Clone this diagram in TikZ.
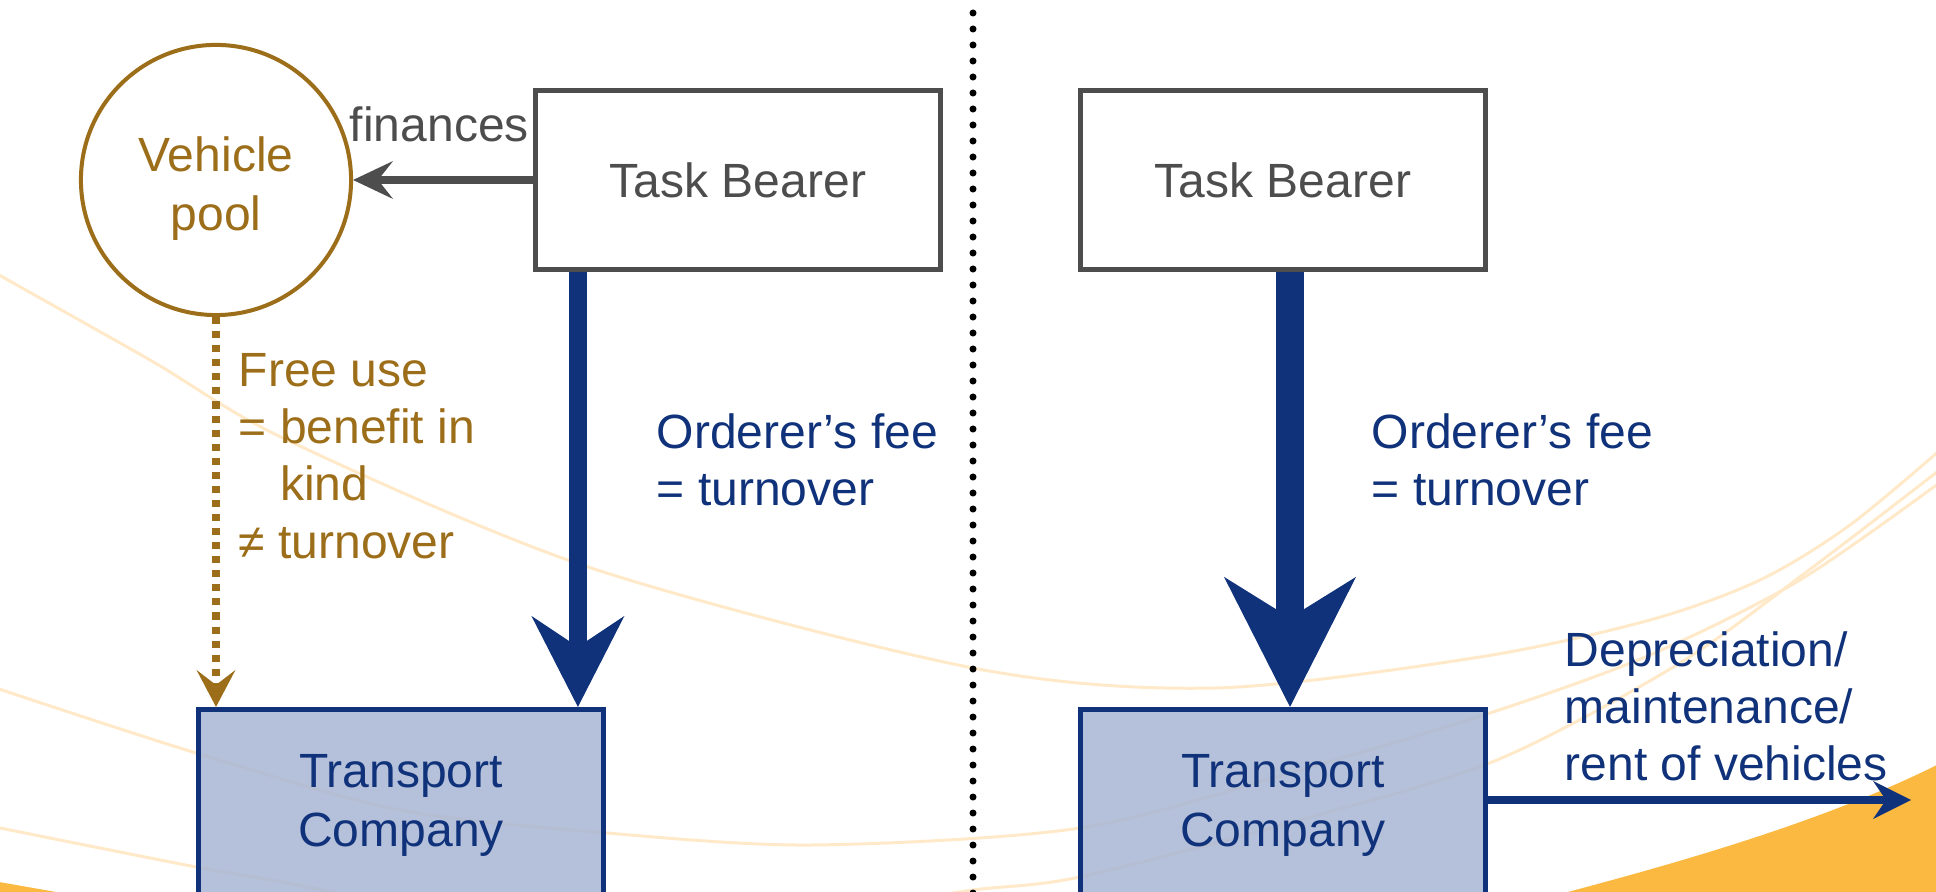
\documentclass[tikz,border=0pt]{standalone}
\usepackage{fontspec}
\setmainfont{Liberation Sans}
\usetikzlibrary{arrows.meta}

\definecolor{poolbrown}{RGB}{156,110,26}
\definecolor{feeblue}{RGB}{16,50,122}
\definecolor{bearergrey}{RGB}{77,77,77}
\definecolor{swooshline}{RGB}{255,233,200}
\definecolor{swooshfill}{RGB}{251,185,65}
\definecolor{meshblue}{RGB}{168,182,212}

\begin{document}
\begin{tikzpicture}[x=0.01cm, y=-0.01cm,
	every node/.style={font=\fontsize{13.66}{16.3}\selectfont, inner sep=0pt},
	bearerbox/.style={draw=bearergrey, line width=1.42pt, fill=white, text=bearergrey,
		minimum width=4.05cm, minimum height=1.79cm},
	companybox/.style={draw=feeblue, line width=1.42pt, fill=meshblue, fill opacity=0.85,
		text opacity=1, text=feeblue, align=center, minimum width=4.05cm, minimum height=1.92cm,
		font=\fontsize{13.66}{16.8}\selectfont},
	poolcircle/.style={circle, draw=poolbrown, line width=1.14pt, fill=white, text=poolbrown,
		align=center, minimum size=2.7cm, font=\fontsize{13.66}{16.8}\selectfont},
	feelabel/.style={text=feeblue, align=left, anchor=north west},
	uselabel/.style={text=poolbrown, align=left, anchor=north west},
	swoosh/.style={draw=swooshline, line width=0.85pt},
	sepline/.style={line width=2pt, line cap=round, dash pattern=on 0pt off 4.55pt},
	finarrow/.style={draw=bearergrey, line width=2.28pt,
		-{Stealth[length=4mm, width=3.8mm, inset=1.5mm, line width=0pt]}},
	usearrow/.style={draw=poolbrown, line width=2.28pt, dash pattern=on 2pt off 2pt,
		-{Stealth[length=3.7mm, width=3.9mm, inset=1.5mm, line width=0pt]}},
	feearrow/.style={draw=feeblue, fill=feeblue, line width=5.1pt,
		-{Stealth[length=9.1mm, width=9.3mm, inset=3.1mm, line width=0pt]}},
	bigfeearrow/.style={draw=feeblue, fill=feeblue, line width=7.7pt,
		-{Stealth[length=13mm, width=13.2mm, inset=4.1mm, line width=0pt]}},
	deprarrow/.style={draw=feeblue, line width=2pt,
		-{Stealth[length=3.8mm, width=3.8mm, inset=1.3mm, line width=0pt]}}]

	\useasboundingbox (0,0) rectangle (1936,892);
	\clip (0,0) rectangle (1936,892);

	% background swoosh
	\draw[swoosh] plot[smooth] coordinates {(-10,270) (150,360) (287,440) (588,567) (973,668)
		(1215,688) (1480,657) (1650,620) (1760,580) (1850,525) (1946,445)};
	\draw[swoosh] plot[smooth] coordinates {(-10,686) (196,753) (400,810) (607,833) (813,845)
		(1080,828) (1300,770) (1490,713) (1650,655) (1800,580) (1946,478)};
	\draw[swoosh] plot[smooth] coordinates {(-10,826) (196,867) (308,887) (420,915)};
	\draw[swoosh] plot[smooth] coordinates {(880,905) (973,890) (1080,877) (1300,820)
		(1497,760) (1680,663) (1813,567) (1946,465)};
	\fill[swooshfill] (1564,893) .. controls (1700,857) and (1830,818) .. (1937,765)
		-- (1937,893) -- cycle;
	\fill[swooshfill] (-1,882) -- (62,893) -- (-1,893) -- cycle;

	% separator
	\coordinate (sepTop) at (973,13);
	\coordinate (sepBot) at (973,900);
	\draw[sepline] (sepTop) -- (sepBot);

	% left side
	\node[poolcircle] (pool) at (216,180) {\rule{0pt}{0.52cm}Vehicle\\pool};
	\node[bearerbox] (TaskL) at (738,180) {Task Bearer};
	\node[companybox] (TransL) at (401,805.5) {Transport\\Company};

	\draw[finarrow] (TaskL.west) -- (pool.east);
	\node[text=bearergrey, anchor=base east] (fin) at (529.5,142) {finances};

	\draw[usearrow] (pool.south) -- (pool.south |- TransL.north);
	\node[uselabel] (freeUse) at (238,352.6) {Free use\\= benefit in\\\phantom{= }kind\\≠ turnover};

	\draw[feearrow] ([xshift=-1.6cm]TaskL.south) -- ([xshift=-1.6cm]TaskL.south |- TransL.north);
	\node[feelabel] (feeL) at (656,413) {Orderer's fee\\= turnover};

	% right side
	\node[bearerbox] (TaskR) at (1283,180) {Task Bearer};
	\node[companybox] (TransR) at (1283,805.5) {Transport\\Company};

	\draw[bigfeearrow] ([xshift=0.7mm]TaskR.south) -- ([xshift=0.7mm]TaskR.south |- TransR.north);
	\node[feelabel] (feeR) at (1371,413) {Orderer's fee\\= turnover};

	\coordinate (deprEnd) at (1911,800);
	\draw[deprarrow] (TransR.east |- deprEnd) -- (deprEnd);
	\node[feelabel] (deprText) at (1564,630.6) {Depreciation/\\maintenance/\\rent of vehicles};

\end{tikzpicture}
\end{document}
